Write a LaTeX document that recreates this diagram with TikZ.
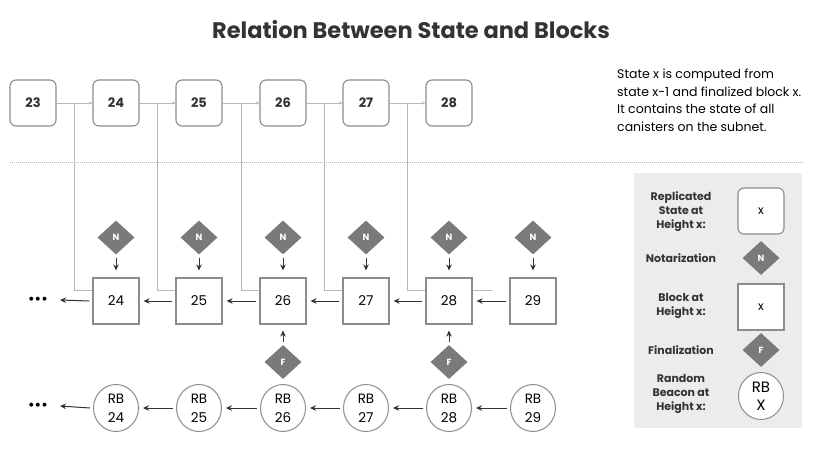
\documentclass[tikz,border=0pt]{standalone}
\usepackage{fontspec}
\setmainfont{Poppins}
\usetikzlibrary{arrows.meta,shapes.geometric,backgrounds,calc}
\definecolor{txt}{HTML}{333333}
\definecolor{boxline}{HTML}{8C8C8C}
\definecolor{thin}{HTML}{B8B8B8}
\definecolor{dia}{HTML}{7A7A7A}
\definecolor{panel}{HTML}{ECECEC}
\tikzset{
  statebox/.style={draw=boxline, line width=1.1pt, rounded corners=6pt, fill=white,
    minimum width=46pt, minimum height=46pt, inner sep=0pt, text=txt, font=\fontsize{13}{15}\selectfont\bfseries},
  blockbox/.style={draw=boxline, line width=1.1pt, fill=white,
    minimum width=46pt, minimum height=46pt, inner sep=0pt, text=black, font=\fontsize{13.5}{15}\selectfont},
  rbnode/.style={draw=boxline, line width=1pt, ellipse, fill=white, minimum width=45pt, minimum height=47pt,
    inner sep=0pt, align=center, text=black, font=\fontsize{13.5}{19}\selectfont},
  dnode/.style={diamond, fill=dia, minimum width=37pt, minimum height=34pt, inner sep=0pt,
    text=white, font=\fontsize{9}{10}\selectfont\bfseries},
  thinarr/.style={draw=thin, line width=0.8pt, -{Stealth[length=3.5pt,width=3.5pt]}},
  thinline/.style={draw=thin, line width=0.8pt},
  darr/.style={draw=txt, line width=1pt, -{Stealth[length=6pt,width=5.5pt]}},
  leglabel/.style={align=center, text=txt, font=\fontsize{11}{14}\selectfont\bfseries},
}
\begin{document}
\begin{tikzpicture}[x=1pt,y=-1pt]
\useasboundingbox (0,0) rectangle (824,450);
% title
\node[text=txt, font=\fontsize{22.5}{26}\selectfont\bfseries] (title) at (411,30) {Relation Between State and Blocks};
% description
\node[anchor=north west, align=left, text=black, font=\fontsize{12.5}{17.5}\selectfont, inner sep=0pt] (desc) at (617,69)
  {State x is computed from\\state x-1 and finalized block x.\\It contains the state of all\\canisters on the subnet.};
% dotted separator
\coordinate (sepL) at (10,162);
\coordinate (sepR) at (803,162);
\draw[draw=thin, line width=0.7pt, dash pattern=on 0.8pt off 1.2pt] (sepL) -- (sepR);
% top state boxes
\foreach \n/\x in {23/33,24/116,25/199,26/283,27/366,28/449}
  \node[statebox] (s\n) at (\x,103) {\n};
% blocks
\foreach \n/\x in {24/116,25/199,26/283,27/366,28/449,29/533}
  \node[blockbox] (b\n) at (\x,301) {\n};
% notarization diamonds
\foreach \n/\x in {24/116,25/199,26/283,27/366,28/449,29/533}
  \node[dnode] (n\n) at (\x,237.5) {N};
% finalization diamonds
\node[dnode] (f26) at (283,362) {F};
\node[dnode] (f28) at (449,362) {F};
% random beacons
\foreach \n/\x in {24/116,25/199,26/283,27/366,28/449,29/533}
  \node[rbnode] (r\n) at (\x,408) {RB\\\n};
% dots
\node[text=black, inner sep=0pt, font=\fontsize{13}{15}\selectfont\bfseries] (dots1) at (38,300) {•••};
\node[text=black, inner sep=0pt, font=\fontsize{13}{15}\selectfont\bfseries] (dots2) at (38,406) {•••};
% top arrows and verticals
\begin{scope}[on background layer]
\foreach \a/\b in {23/24,24/25,25/26,26/27,27/28}{
  \draw[thinarr] (s\a.east) -- (s\b.west);
  \coordinate (m\b) at ($(s\a.east)!0.5!(s\b.west)$);
  \draw[thinline] (m\b) |- ([yshift=11pt]b\b.west);
}
\coordinate (ext28) at (492,290);
\draw[thinline] ([yshift=11pt]b28.west) -- (ext28);
\end{scope}
% N arrows
\foreach \n in {24,25,26,27,28,29}
  \draw[darr, line width=0.9pt] ([yshift=-3pt]n\n.south) -- ([yshift=7pt]b\n.north);
% F arrows
\foreach \n in {26,28}
  \draw[darr, line width=0.9pt] ([yshift=3pt]f\n.north) -- ([yshift=-6pt]b\n.south);
% block chain arrows
\foreach \a/\b in {25/24,26/25,27/26,28/27,29/28}
  \draw[darr] ([xshift=-3pt]b\a.west) -- ([xshift=4pt]b\b.east);
\draw[darr] ([xshift=-3pt]b24.west) -- ([xshift=12pt]dots1.east);
% beacon chain arrows
\foreach \a/\b in {25/24,26/25,27/26,28/27,29/28}
  \draw[darr] ([xshift=-3pt]r\a.west) -- ([xshift=4pt]r\b.east);
\draw[darr] ([xshift=-3pt]r24.west) -- ([xshift=12pt]dots2.east);
% legend
\begin{scope}[on background layer]
\fill[panel] (634,173) rectangle (802,428);
\end{scope}
\node[leglabel] (l1) at (681,212) {Replicated\\State at\\Height x:};
\node[statebox, font=\fontsize{12}{14}\selectfont, text=black] (k1) at (761,211) {x};
\node[leglabel] (l2) at (681,258) {Notarization};
\node[dnode] (k2) at (761,258) {N};
\node[leglabel] (l3) at (681,306) {Block at\\Height x:};
\node[blockbox, font=\fontsize{12}{14}\selectfont] (k3) at (761,307) {x};
\node[leglabel] (l4) at (681,350) {Finalization};
\node[dnode] (k4) at (761,350) {F};
\node[leglabel] (l5) at (681,394) {Random\\Beacon at\\Height x:};
\node[rbnode, font=\fontsize{15}{18}\selectfont] (k5) at (761,396) {RB\\X};
\end{tikzpicture}
\end{document}
